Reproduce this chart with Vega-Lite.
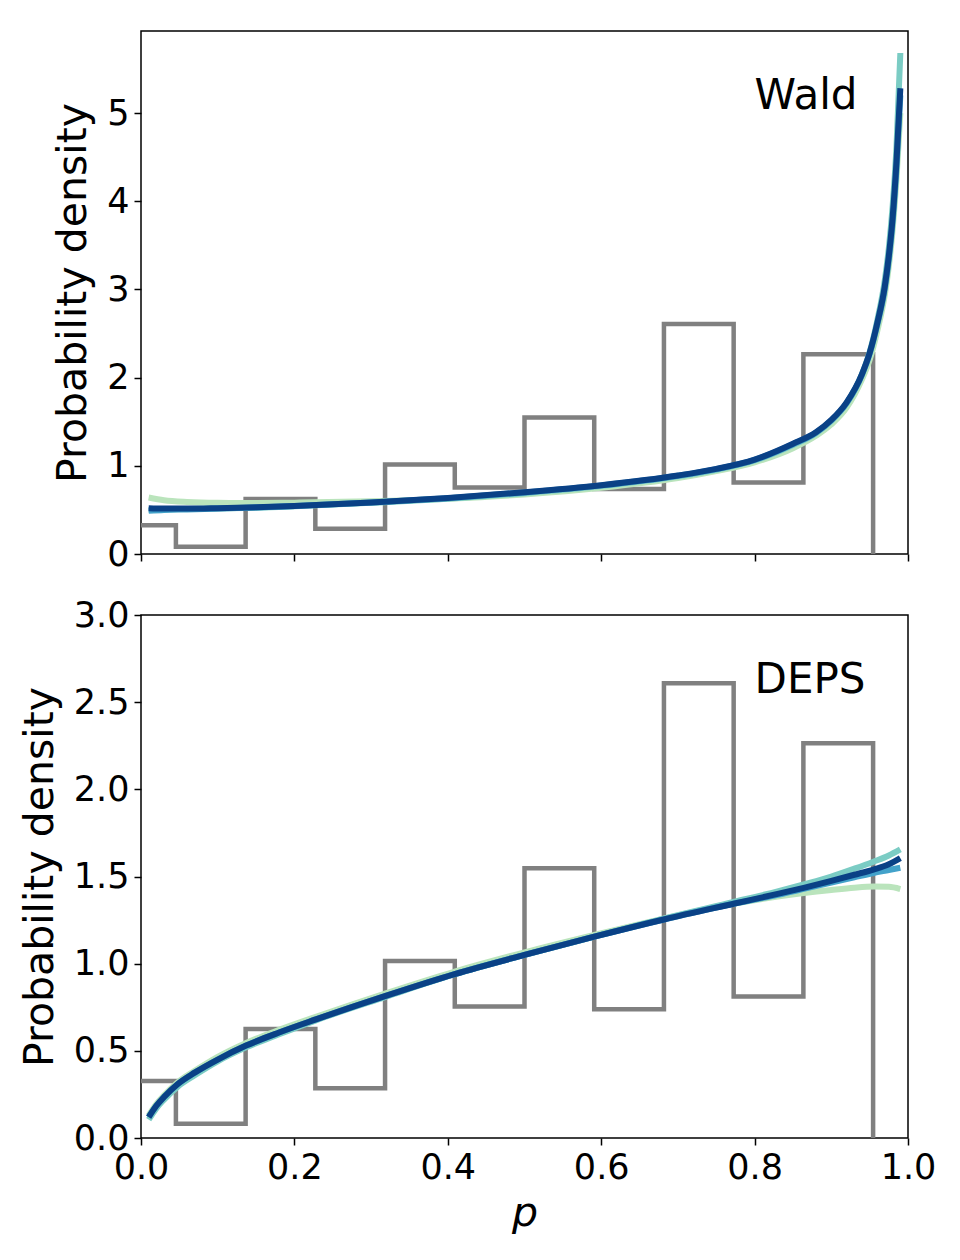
{
  "$schema": "https://vega.github.io/schema/vega-lite/v6.json",
  "autosize": {"type": "pad"},
  "padding": {"left": 18, "top": 30, "right": 0, "bottom": 0},
  "background": "white",
  "spacing": 24,
  "config": {
    "font": "DejaVu Sans",
    "view": {"stroke": "black", "strokeWidth": 1.5},
    "axis": {
      "labelFont": "DejaVu Sans",
      "titleFont": "DejaVu Sans",
      "labelFontSize": 35,
      "titleFontSize": 41,
      "titleFontWeight": "normal",
      "labelColor": "black",
      "titleColor": "black",
      "tickColor": "black",
      "tickSize": 7,
      "tickWidth": 1.5,
      "domain": false,
      "grid": false,
      "labelFlush": false,
      "labelOverlap": false,
      "labelPadding": 5
    }
  },
  "datasets": {
    "hist": [
      {"left": -0.0455, "density": 0.327},
      {"left": 0.0455, "density": 0.082},
      {"left": 0.1364, "density": 0.625},
      {"left": 0.2273, "density": 0.285},
      {"left": 0.3182, "density": 1.015},
      {"left": 0.4091, "density": 0.755},
      {"left": 0.5, "density": 1.548},
      {"left": 0.5909, "density": 0.738},
      {"left": 0.6818, "density": 2.608},
      {"left": 0.7727, "density": 0.812},
      {"left": 0.8636, "density": 2.264},
      {"left": 0.9545, "density": 0}
    ],
    "wald": [
      {"model": "c1", "p": 0.01, "density": 0.64},
      {"model": "c1", "p": 0.03, "density": 0.61},
      {"model": "c1", "p": 0.06, "density": 0.59},
      {"model": "c1", "p": 0.1, "density": 0.58},
      {"model": "c1", "p": 0.15, "density": 0.578},
      {"model": "c1", "p": 0.2, "density": 0.582},
      {"model": "c1", "p": 0.3, "density": 0.597},
      {"model": "c1", "p": 0.4, "density": 0.627},
      {"model": "c1", "p": 0.5, "density": 0.675},
      {"model": "c1", "p": 0.6, "density": 0.75},
      {"model": "c1", "p": 0.7, "density": 0.86},
      {"model": "c1", "p": 0.75, "density": 0.94},
      {"model": "c1", "p": 0.8, "density": 1.04},
      {"model": "c1", "p": 0.85, "density": 1.2},
      {"model": "c1", "p": 0.88, "density": 1.34},
      {"model": "c1", "p": 0.9, "density": 1.47},
      {"model": "c1", "p": 0.92, "density": 1.66},
      {"model": "c1", "p": 0.94, "density": 1.98},
      {"model": "c1", "p": 0.95, "density": 2.2},
      {"model": "c1", "p": 0.96, "density": 2.53},
      {"model": "c1", "p": 0.97, "density": 2.95},
      {"model": "c1", "p": 0.975, "density": 3.26},
      {"model": "c1", "p": 0.98, "density": 3.68},
      {"model": "c1", "p": 0.985, "density": 4.25},
      {"model": "c1", "p": 0.99, "density": 5.0},
      {"model": "c2", "p": 0.01, "density": 0.5},
      {"model": "c2", "p": 0.03, "density": 0.505},
      {"model": "c2", "p": 0.06, "density": 0.51},
      {"model": "c2", "p": 0.1, "density": 0.515},
      {"model": "c2", "p": 0.15, "density": 0.525},
      {"model": "c2", "p": 0.2, "density": 0.54},
      {"model": "c2", "p": 0.3, "density": 0.58},
      {"model": "c2", "p": 0.4, "density": 0.627},
      {"model": "c2", "p": 0.5, "density": 0.69},
      {"model": "c2", "p": 0.6, "density": 0.77},
      {"model": "c2", "p": 0.7, "density": 0.88},
      {"model": "c2", "p": 0.75, "density": 0.955},
      {"model": "c2", "p": 0.8, "density": 1.06},
      {"model": "c2", "p": 0.85, "density": 1.235},
      {"model": "c2", "p": 0.88, "density": 1.37},
      {"model": "c2", "p": 0.9, "density": 1.51},
      {"model": "c2", "p": 0.92, "density": 1.71},
      {"model": "c2", "p": 0.94, "density": 2.04},
      {"model": "c2", "p": 0.95, "density": 2.29},
      {"model": "c2", "p": 0.96, "density": 2.65},
      {"model": "c2", "p": 0.97, "density": 3.12},
      {"model": "c2", "p": 0.975, "density": 3.47},
      {"model": "c2", "p": 0.98, "density": 3.95},
      {"model": "c2", "p": 0.985, "density": 4.62},
      {"model": "c2", "p": 0.99, "density": 5.68},
      {"model": "c3", "p": 0.01, "density": 0.49},
      {"model": "c3", "p": 0.03, "density": 0.5},
      {"model": "c3", "p": 0.06, "density": 0.505},
      {"model": "c3", "p": 0.1, "density": 0.515},
      {"model": "c3", "p": 0.15, "density": 0.528},
      {"model": "c3", "p": 0.2, "density": 0.543},
      {"model": "c3", "p": 0.3, "density": 0.583},
      {"model": "c3", "p": 0.4, "density": 0.633},
      {"model": "c3", "p": 0.5, "density": 0.698},
      {"model": "c3", "p": 0.6, "density": 0.778},
      {"model": "c3", "p": 0.7, "density": 0.888},
      {"model": "c3", "p": 0.75, "density": 0.963},
      {"model": "c3", "p": 0.8, "density": 1.068},
      {"model": "c3", "p": 0.85, "density": 1.245},
      {"model": "c3", "p": 0.88, "density": 1.375},
      {"model": "c3", "p": 0.9, "density": 1.515},
      {"model": "c3", "p": 0.92, "density": 1.71},
      {"model": "c3", "p": 0.94, "density": 2.03},
      {"model": "c3", "p": 0.95, "density": 2.27},
      {"model": "c3", "p": 0.96, "density": 2.6},
      {"model": "c3", "p": 0.97, "density": 3.02},
      {"model": "c3", "p": 0.975, "density": 3.34},
      {"model": "c3", "p": 0.98, "density": 3.77},
      {"model": "c3", "p": 0.985, "density": 4.38},
      {"model": "c3", "p": 0.99, "density": 5.2},
      {"model": "c4", "p": 0.01, "density": 0.52},
      {"model": "c4", "p": 0.03, "density": 0.515},
      {"model": "c4", "p": 0.06, "density": 0.515},
      {"model": "c4", "p": 0.1, "density": 0.52},
      {"model": "c4", "p": 0.15, "density": 0.53},
      {"model": "c4", "p": 0.2, "density": 0.545},
      {"model": "c4", "p": 0.3, "density": 0.585},
      {"model": "c4", "p": 0.4, "density": 0.635},
      {"model": "c4", "p": 0.5, "density": 0.7},
      {"model": "c4", "p": 0.6, "density": 0.78},
      {"model": "c4", "p": 0.7, "density": 0.89},
      {"model": "c4", "p": 0.75, "density": 0.965},
      {"model": "c4", "p": 0.8, "density": 1.07},
      {"model": "c4", "p": 0.85, "density": 1.25},
      {"model": "c4", "p": 0.88, "density": 1.38},
      {"model": "c4", "p": 0.9, "density": 1.52},
      {"model": "c4", "p": 0.92, "density": 1.72},
      {"model": "c4", "p": 0.94, "density": 2.04},
      {"model": "c4", "p": 0.95, "density": 2.28},
      {"model": "c4", "p": 0.96, "density": 2.62},
      {"model": "c4", "p": 0.97, "density": 3.05},
      {"model": "c4", "p": 0.975, "density": 3.38},
      {"model": "c4", "p": 0.98, "density": 3.82},
      {"model": "c4", "p": 0.985, "density": 4.45},
      {"model": "c4", "p": 0.99, "density": 5.28}
    ],
    "deps": [
      {"model": "c1", "p": 0.01, "density": 0.13},
      {"model": "c1", "p": 0.02, "density": 0.195},
      {"model": "c1", "p": 0.03, "density": 0.245},
      {"model": "c1", "p": 0.048, "density": 0.32},
      {"model": "c1", "p": 0.07, "density": 0.385},
      {"model": "c1", "p": 0.1, "density": 0.465},
      {"model": "c1", "p": 0.137, "density": 0.545},
      {"model": "c1", "p": 0.18, "density": 0.62},
      {"model": "c1", "p": 0.228, "density": 0.695},
      {"model": "c1", "p": 0.319, "density": 0.83},
      {"model": "c1", "p": 0.409, "density": 0.955},
      {"model": "c1", "p": 0.5, "density": 1.065},
      {"model": "c1", "p": 0.591, "density": 1.165},
      {"model": "c1", "p": 0.683, "density": 1.26},
      {"model": "c1", "p": 0.774, "density": 1.345},
      {"model": "c1", "p": 0.83, "density": 1.385},
      {"model": "c1", "p": 0.864, "density": 1.405},
      {"model": "c1", "p": 0.9, "density": 1.423},
      {"model": "c1", "p": 0.93, "density": 1.436},
      {"model": "c1", "p": 0.955, "density": 1.442},
      {"model": "c1", "p": 0.975, "density": 1.441},
      {"model": "c1", "p": 0.99, "density": 1.428},
      {"model": "c2", "p": 0.01, "density": 0.105},
      {"model": "c2", "p": 0.02, "density": 0.17},
      {"model": "c2", "p": 0.03, "density": 0.22},
      {"model": "c2", "p": 0.048, "density": 0.295},
      {"model": "c2", "p": 0.07, "density": 0.36},
      {"model": "c2", "p": 0.1, "density": 0.44},
      {"model": "c2", "p": 0.137, "density": 0.52},
      {"model": "c2", "p": 0.18, "density": 0.595},
      {"model": "c2", "p": 0.228, "density": 0.675},
      {"model": "c2", "p": 0.319, "density": 0.81},
      {"model": "c2", "p": 0.409, "density": 0.94},
      {"model": "c2", "p": 0.5, "density": 1.05},
      {"model": "c2", "p": 0.591, "density": 1.155},
      {"model": "c2", "p": 0.683, "density": 1.26},
      {"model": "c2", "p": 0.774, "density": 1.355},
      {"model": "c2", "p": 0.83, "density": 1.415},
      {"model": "c2", "p": 0.864, "density": 1.455},
      {"model": "c2", "p": 0.9, "density": 1.5},
      {"model": "c2", "p": 0.93, "density": 1.545},
      {"model": "c2", "p": 0.955, "density": 1.585},
      {"model": "c2", "p": 0.975, "density": 1.62},
      {"model": "c2", "p": 0.99, "density": 1.655},
      {"model": "c3", "p": 0.01, "density": 0.12},
      {"model": "c3", "p": 0.02, "density": 0.185},
      {"model": "c3", "p": 0.03, "density": 0.235},
      {"model": "c3", "p": 0.048, "density": 0.31},
      {"model": "c3", "p": 0.07, "density": 0.375},
      {"model": "c3", "p": 0.1, "density": 0.45},
      {"model": "c3", "p": 0.137, "density": 0.53},
      {"model": "c3", "p": 0.18, "density": 0.605},
      {"model": "c3", "p": 0.228, "density": 0.68},
      {"model": "c3", "p": 0.319, "density": 0.815},
      {"model": "c3", "p": 0.409, "density": 0.94},
      {"model": "c3", "p": 0.5, "density": 1.05},
      {"model": "c3", "p": 0.591, "density": 1.155},
      {"model": "c3", "p": 0.683, "density": 1.255},
      {"model": "c3", "p": 0.774, "density": 1.345},
      {"model": "c3", "p": 0.83, "density": 1.395},
      {"model": "c3", "p": 0.864, "density": 1.43},
      {"model": "c3", "p": 0.9, "density": 1.465},
      {"model": "c3", "p": 0.93, "density": 1.495},
      {"model": "c3", "p": 0.955, "density": 1.52},
      {"model": "c3", "p": 0.975, "density": 1.537},
      {"model": "c3", "p": 0.99, "density": 1.55},
      {"model": "c4", "p": 0.01, "density": 0.12},
      {"model": "c4", "p": 0.02, "density": 0.185},
      {"model": "c4", "p": 0.03, "density": 0.235},
      {"model": "c4", "p": 0.048, "density": 0.31},
      {"model": "c4", "p": 0.07, "density": 0.375},
      {"model": "c4", "p": 0.1, "density": 0.45},
      {"model": "c4", "p": 0.137, "density": 0.53},
      {"model": "c4", "p": 0.18, "density": 0.605},
      {"model": "c4", "p": 0.228, "density": 0.68},
      {"model": "c4", "p": 0.319, "density": 0.815},
      {"model": "c4", "p": 0.409, "density": 0.94},
      {"model": "c4", "p": 0.5, "density": 1.05},
      {"model": "c4", "p": 0.591, "density": 1.155},
      {"model": "c4", "p": 0.683, "density": 1.255},
      {"model": "c4", "p": 0.774, "density": 1.345},
      {"model": "c4", "p": 0.83, "density": 1.4},
      {"model": "c4", "p": 0.864, "density": 1.435},
      {"model": "c4", "p": 0.9, "density": 1.475},
      {"model": "c4", "p": 0.93, "density": 1.51},
      {"model": "c4", "p": 0.955, "density": 1.54},
      {"model": "c4", "p": 0.975, "density": 1.57},
      {"model": "c4", "p": 0.99, "density": 1.605}
    ]
  },
  "vconcat": [
    {
      "width": 767,
      "height": 523,
      "layer": [
        {
          "data": {"name": "hist"},
          "mark": {"type": "line", "interpolate": "step-after", "color": "#808080", "strokeWidth": 4.5, "clip": true},
          "encoding": {
            "x": {"field": "left", "type": "quantitative", "scale": {"domain": [0, 1], "nice": false},
                  "axis": {"values": [0, 0.2, 0.4, 0.6, 0.8, 1.0], "labels": false, "title": null}},
            "y": {"field": "density", "type": "quantitative", "scale": {"domain": [0, 5.93], "nice": false},
                  "axis": {"values": [0, 1, 2, 3, 4, 5], "format": "d", "title": "Probability density", "titlePadding": 12}}
          }
        },
        {
          "data": {"name": "wald"},
          "mark": {"type": "line", "interpolate": "monotone", "strokeWidth": 6, "strokeCap": "butt", "clip": true},
          "encoding": {
            "x": {"field": "p", "type": "quantitative"},
            "y": {"field": "density", "type": "quantitative"},
            "color": {"field": "model", "type": "nominal",
                      "scale": {"domain": ["c1", "c2", "c3", "c4"], "range": ["#bae4bc", "#7bccc4", "#43a2ca", "#0a4186"]},
                      "legend": null}
          }
        },
        {
          "data": {"values": [{"label": "Wald"}]},
          "mark": {"type": "text", "fontSize": 42, "font": "DejaVu Sans", "align": "left", "baseline": "alphabetic", "color": "black"},
          "encoding": {
            "x": {"datum": 0.8, "type": "quantitative"},
            "y": {"datum": 5.045, "type": "quantitative"},
            "text": {"field": "label"}
          }
        }
      ]
    },
    {
      "width": 767,
      "height": 523,
      "layer": [
        {
          "data": {"name": "hist"},
          "mark": {"type": "line", "interpolate": "step-after", "color": "#808080", "strokeWidth": 4.5, "clip": true},
          "encoding": {
            "x": {"field": "left", "type": "quantitative", "scale": {"domain": [0, 1], "nice": false},
                  "axis": {"values": [0, 0.2, 0.4, 0.6, 0.8, 1.0], "format": ".1f", "title": "p", "titleFontStyle": "italic", "titlePadding": 8}},
            "y": {"field": "density", "type": "quantitative", "scale": {"domain": [0, 3], "nice": false},
                  "axis": {"values": [0, 0.5, 1.0, 1.5, 2.0, 2.5, 3.0], "format": ".1f", "title": "Probability density", "titlePadding": 12}}
          }
        },
        {
          "data": {"name": "deps"},
          "mark": {"type": "line", "interpolate": "monotone", "strokeWidth": 6, "strokeCap": "butt", "clip": true},
          "encoding": {
            "x": {"field": "p", "type": "quantitative"},
            "y": {"field": "density", "type": "quantitative"},
            "color": {"field": "model", "type": "nominal",
                      "scale": {"domain": ["c1", "c2", "c3", "c4"], "range": ["#bae4bc", "#7bccc4", "#43a2ca", "#0a4186"]},
                      "legend": null}
          }
        },
        {
          "data": {"values": [{"label": "DEPS"}]},
          "mark": {"type": "text", "fontSize": 42, "font": "DejaVu Sans", "align": "left", "baseline": "alphabetic", "color": "black"},
          "encoding": {
            "x": {"datum": 0.8, "type": "quantitative"},
            "y": {"datum": 2.555, "type": "quantitative"},
            "text": {"field": "label"}
          }
        }
      ]
    }
  ]
}
